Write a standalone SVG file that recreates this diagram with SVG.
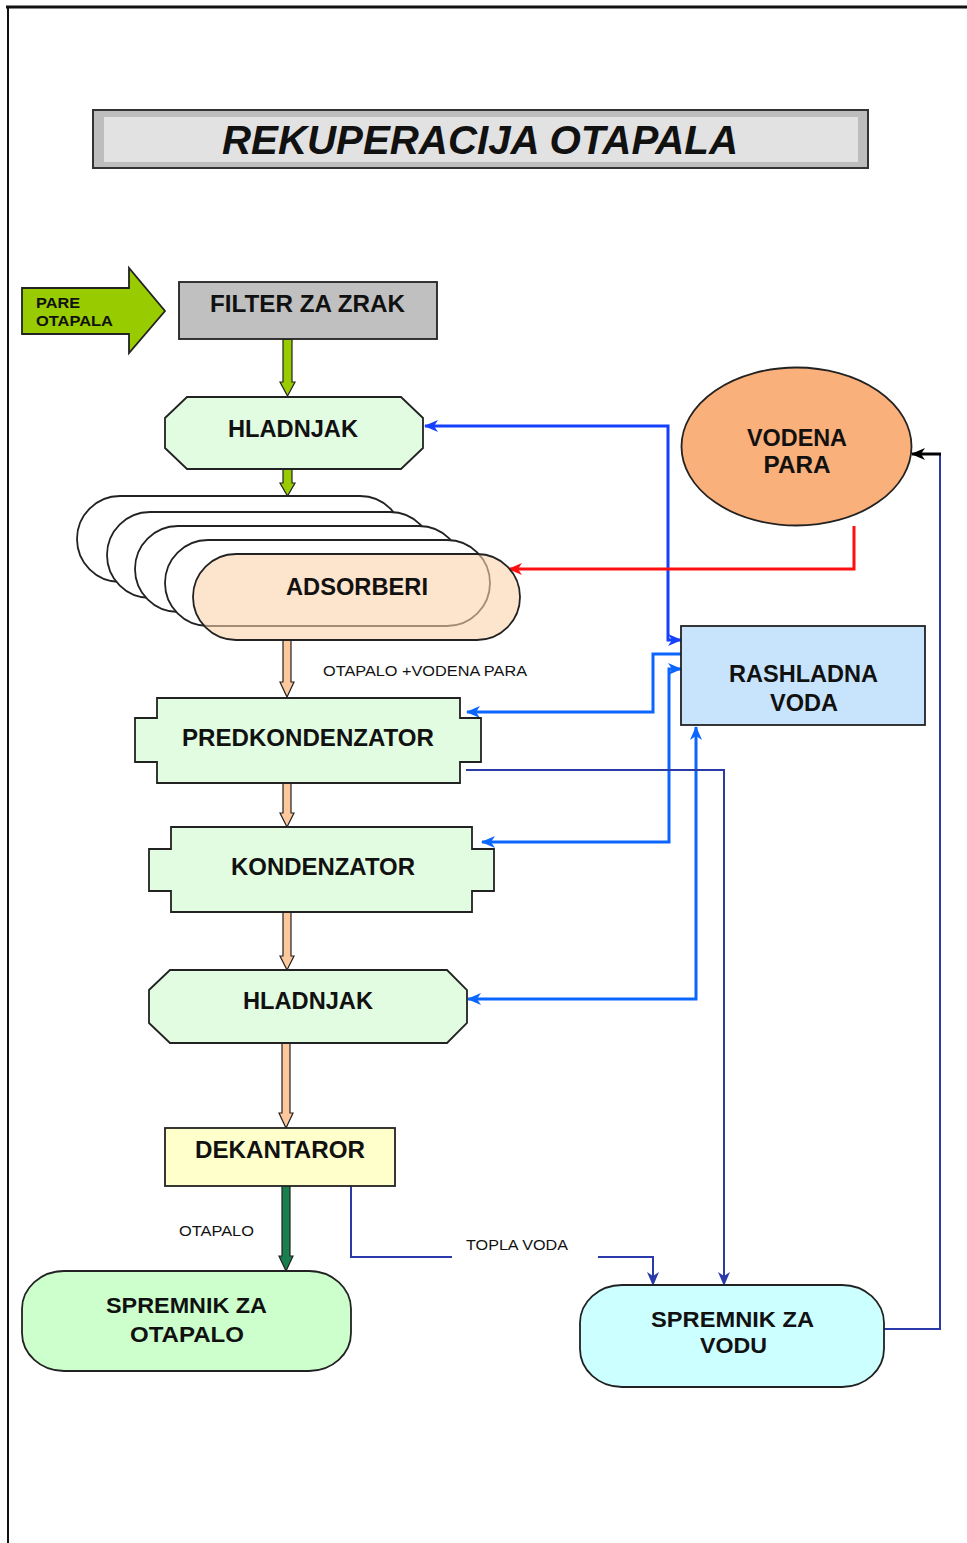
<svg xmlns="http://www.w3.org/2000/svg" width="967" height="1543" viewBox="0 0 967 1543">
<style>
  .t{font-family:"Liberation Sans",Arial,sans-serif;font-weight:bold;fill:#111;text-anchor:middle}
  .s{font-family:"Liberation Sans",Arial,sans-serif;fill:#111}
  .node{stroke:#222;stroke-width:1.8}
  .blk{stroke:#222;stroke-width:1.2}
  .blue{fill:none;stroke:#0a66ff;stroke-width:3}
  .blue1{fill:none;stroke:#1540ff;stroke-width:3}
  .dblue{fill:none;stroke:#2a3aa8;stroke-width:2}
</style>
<defs>
  <marker id="ab" markerUnits="userSpaceOnUse" markerWidth="14" markerHeight="12" refX="13" refY="6" orient="auto-start-reverse" viewBox="0 0 14 12">
    <path d="M0,0 L14,6 L0,12 L4,6 z" fill="#0a66ff"/>
  </marker>
  <marker id="ab1" markerUnits="userSpaceOnUse" markerWidth="14" markerHeight="12" refX="13" refY="6" orient="auto-start-reverse" viewBox="0 0 14 12">
    <path d="M0,0 L14,6 L0,12 L4,6 z" fill="#1540ff"/>
  </marker>
  <marker id="ad" markerUnits="userSpaceOnUse" markerWidth="14" markerHeight="12" refX="13" refY="6" orient="auto" viewBox="0 0 14 12">
    <path d="M0,0 L14,6 L0,12 L4,6 z" fill="#2a3aa8"/>
  </marker>
  <marker id="ar" markerUnits="userSpaceOnUse" markerWidth="14" markerHeight="12" refX="13" refY="6" orient="auto" viewBox="0 0 14 12">
    <path d="M0,0 L14,6 L0,12 L4,6 z" fill="#ff1010"/>
  </marker>
  <marker id="ak" markerUnits="userSpaceOnUse" markerWidth="14" markerHeight="12" refX="13" refY="6" orient="auto" viewBox="0 0 14 12">
    <path d="M0,0 L14,6 L0,12 L4,6 z" fill="#000"/>
  </marker>
</defs>
<rect width="967" height="1543" fill="#fff"/>
<!-- page frame -->
<line x1="6" y1="7" x2="967" y2="7" stroke="#111" stroke-width="3"/>
<line x1="8" y1="7" x2="8" y2="1543" stroke="#111" stroke-width="2"/>

<!-- title -->
<g id="title">
  <rect x="93" y="110" width="775" height="58" fill="#bdbdbd" stroke="#333" stroke-width="2"/>
  <rect x="104" y="117" width="754" height="45" fill="#e2e2e2"/>
  <text x="480" y="154" class="t" font-size="41" font-style="italic" textLength="516" lengthAdjust="spacingAndGlyphs">REKUPERACIJA OTAPALA</text>
</g>

<g id="connectors">
  <!-- block arrows -->
  <polygon class="blk" fill="#99cc00" points="283,339 292,339 292,382 295,382 287.5,396 280,382 283,382"/>
  <polygon class="blk" fill="#99cc00" points="283,469 292,469 292,483 295,483 287.5,496 280,483 283,483"/>
  <polygon class="blk" fill="#fcc89c" points="283,640 291,640 291,682 294,682 287,697 280,682 283,682"/>
  <polygon class="blk" fill="#fcc89c" points="283,783 291,783 291,813 294,813 287,827 280,813 283,813"/>
  <polygon class="blk" fill="#fcc89c" points="283,912 291,912 291,956 294,956 287,970 280,956 283,956"/>
  <polygon class="blk" fill="#fcc89c" points="282,1043 290,1043 290,1113 293,1113 286,1128 279,1113 282,1113"/>
  <polygon class="blk" fill="#1a7f4f" points="282,1186 290,1186 290,1256 293,1256 286,1271 279,1256 282,1256"/>

  <!-- blue cooling water lines -->
  <path class="blue1" d="M681,640 H668 V426 H425" marker-start="url(#ab1)" marker-end="url(#ab1)"/>
  <path class="blue" d="M681,669 H669 V842 H482" marker-start="url(#ab)" marker-end="url(#ab)"/>
  <path class="blue" d="M681,654 H653 V712 H467" stroke-width="2.5" marker-end="url(#ab)"/>
  <path class="blue" d="M696,727 V999 H468" marker-start="url(#ab)" marker-end="url(#ab)"/>

  <!-- red steam line -->
  <path d="M854,526 V569 H509" fill="none" stroke="#ff1010" stroke-width="3" marker-end="url(#ar)"/>

  <!-- return to steam -->
  <path class="dblue" d="M884,1329 H940 V454"/>
  <path d="M941,454 H912" fill="none" stroke="#000" stroke-width="3" marker-end="url(#ak)"/>

  <!-- warm water from predkondenzator -->
  <path class="dblue" d="M466,770 H724 V1285" marker-end="url(#ad)"/>
  <!-- topla voda from dekantaror -->
  <path class="dblue" d="M351,1186 V1257 H452"/>
  <path class="dblue" d="M598,1257 H653 V1285" marker-end="url(#ad)"/>
</g>

<!-- labels on connectors -->
<text x="323" y="676" class="s" font-size="15" textLength="204" lengthAdjust="spacingAndGlyphs">OTAPALO +VODENA PARA</text>
<text x="179" y="1236" class="s" font-size="14" textLength="75" lengthAdjust="spacingAndGlyphs">OTAPALO</text>
<text x="466" y="1250" class="s" font-size="14" textLength="102" lengthAdjust="spacingAndGlyphs">TOPLA VODA</text>

<g id="pare-otapala">
  <polygon class="node" fill="#99cc00" points="22,288 129,288 129,268 165,311 129,353 129,334 22,334"/>
  <text x="36" y="308" class="s" font-weight="bold" font-size="15" textLength="44" lengthAdjust="spacingAndGlyphs">PARE</text>
  <text x="36" y="326" class="s" font-weight="bold" font-size="15" textLength="77" lengthAdjust="spacingAndGlyphs">OTAPALA</text>
</g>

<g id="filter">
  <rect class="node" x="179" y="282" width="258" height="57" fill="#c0c0c0"/>
  <text x="307.5" y="312" class="t" font-size="23" textLength="195" lengthAdjust="spacingAndGlyphs">FILTER ZA ZRAK</text>
</g>

<g id="hladnjak1">
  <polygon class="node" fill="#e2fce2" points="187,397 401,397 423,418 423,448 401,469 187,469 165,448 165,418"/>
  <text x="293" y="437" class="t" font-size="23" textLength="130" lengthAdjust="spacingAndGlyphs">HLADNJAK</text>
</g>

<g id="adsorberi">
  <rect class="node" x="77" y="496" width="326" height="86" rx="43" ry="43" fill="#fff"/>
  <rect class="node" x="107" y="512" width="326" height="86" rx="43" ry="43" fill="#fff"/>
  <rect class="node" x="135" y="526" width="327" height="86" rx="43" ry="43" fill="#fff"/>
  <rect class="node" x="165" y="540" width="325" height="86" rx="43" ry="43" fill="#fff"/>
  <rect x="193" y="554" width="327" height="86" rx="43" ry="43" fill="#fcd2ac" fill-opacity="0.6" stroke="#222" stroke-width="1.8"/>
  <text x="357" y="595" class="t" font-size="23" textLength="142" lengthAdjust="spacingAndGlyphs">ADSORBERI</text>
</g>

<g id="vodena-para">
  <ellipse class="node" cx="796.5" cy="446.5" rx="115" ry="79" fill="#fab07a"/>
  <text x="797" y="446" class="t" font-size="23" textLength="100" lengthAdjust="spacingAndGlyphs">VODENA</text>
  <text x="797" y="473" class="t" font-size="23" textLength="67" lengthAdjust="spacingAndGlyphs">PARA</text>
</g>

<g id="rashladna-voda">
  <rect class="node" x="681" y="626" width="244" height="99" fill="#c8e4fc"/>
  <text x="803.5" y="682" class="t" font-size="23" textLength="149" lengthAdjust="spacingAndGlyphs">RASHLADNA</text>
  <text x="804" y="711" class="t" font-size="23" textLength="68" lengthAdjust="spacingAndGlyphs">VODA</text>
</g>

<g id="predkondenzator">
  <polygon class="node" fill="#e2fce2" points="157,698 460,698 460,718 481,718 481,762 460,762 460,783 157,783 157,762 135,762 135,718 157,718"/>
  <text x="308" y="746" class="t" font-size="23" textLength="252" lengthAdjust="spacingAndGlyphs">PREDKONDENZATOR</text>
</g>

<g id="kondenzator">
  <polygon class="node" fill="#e2fce2" points="171,827 472,827 472,849 494,849 494,891 472,891 472,912 171,912 171,891 149,891 149,849 171,849"/>
  <text x="323" y="875" class="t" font-size="23" textLength="184" lengthAdjust="spacingAndGlyphs">KONDENZATOR</text>
</g>

<g id="hladnjak2">
  <polygon class="node" fill="#e2fce2" points="170,970 447,970 467,990 467,1023 447,1043 170,1043 149,1023 149,990"/>
  <text x="308" y="1009" class="t" font-size="23" textLength="130" lengthAdjust="spacingAndGlyphs">HLADNJAK</text>
</g>

<g id="dekantaror">
  <rect class="node" x="165" y="1128" width="230" height="58" fill="#ffffcc"/>
  <text x="280" y="1158" class="t" font-size="23" textLength="170" lengthAdjust="spacingAndGlyphs">DEKANTAROR</text>
</g>

<g id="spremnik-otapalo">
  <rect class="node" x="22" y="1271" width="329" height="100" rx="42" ry="38" fill="#ccffcc"/>
  <text x="186.5" y="1313" class="t" font-size="22" textLength="161" lengthAdjust="spacingAndGlyphs">SPREMNIK ZA</text>
  <text x="187" y="1342" class="t" font-size="22" textLength="114" lengthAdjust="spacingAndGlyphs">OTAPALO</text>
</g>

<g id="spremnik-voda">
  <rect class="node" x="580" y="1285" width="304" height="102" rx="42" ry="38" fill="#ccffff"/>
  <text x="732.5" y="1327" class="t" font-size="22" textLength="163" lengthAdjust="spacingAndGlyphs">SPREMNIK ZA</text>
  <text x="733.5" y="1353" class="t" font-size="22" textLength="67" lengthAdjust="spacingAndGlyphs">VODU</text>
</g>
</svg>
